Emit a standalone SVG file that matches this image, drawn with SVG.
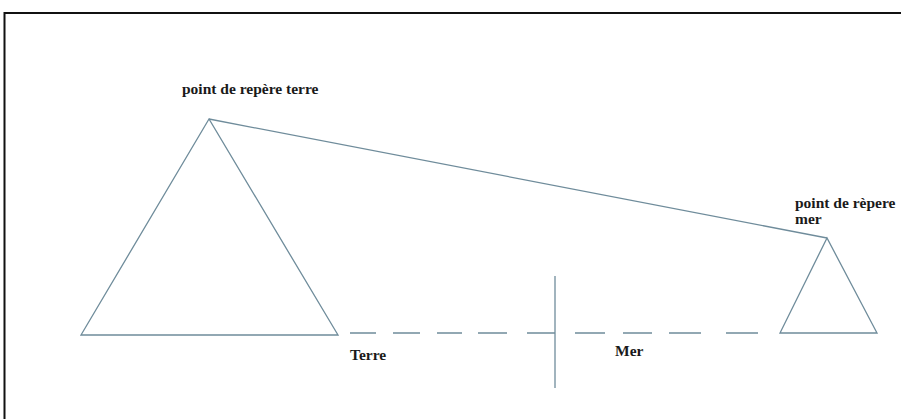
<svg xmlns="http://www.w3.org/2000/svg" width="901" height="419" viewBox="0 0 901 419">
<style>
.ln{stroke:#6f8c9b;stroke-width:1.3;fill:none}
.lb{font-family:"Liberation Serif",serif;font-weight:bold;font-size:15.5px;fill:#1a1a1a}
</style>
<rect width="901" height="419" fill="#fff"/>
<path d="M4.5,419 V13 H901" stroke="#111" stroke-width="2" fill="none"/>
<g id="triangle-terre"><polygon class="ln" points="209,119 81,335 338,335"/></g>
<g id="triangle-mer"><polygon class="ln" points="827,238 780,333 877,333"/></g>
<g id="connectors">
<line class="ln" x1="209" y1="119" x2="827" y2="238"/>
<path class="ln" d="M350,333H376M393,333H420M437,333H462M478,333H507M527,333H555M575,333H605M623,333H652M669,333H701M726,333H758"/>
<line class="ln" x1="555" y1="276" x2="555" y2="388"/>
</g>
<g id="labels">
<text class="lb" x="182" y="94">point de repère terre</text>
<text class="lb" x="795" y="208">point de rèpere</text>
<text class="lb" x="795" y="224">mer</text>
<text class="lb" x="350" y="360">Terre</text>
<text class="lb" x="615" y="356">Mer</text>
</g>
</svg>
